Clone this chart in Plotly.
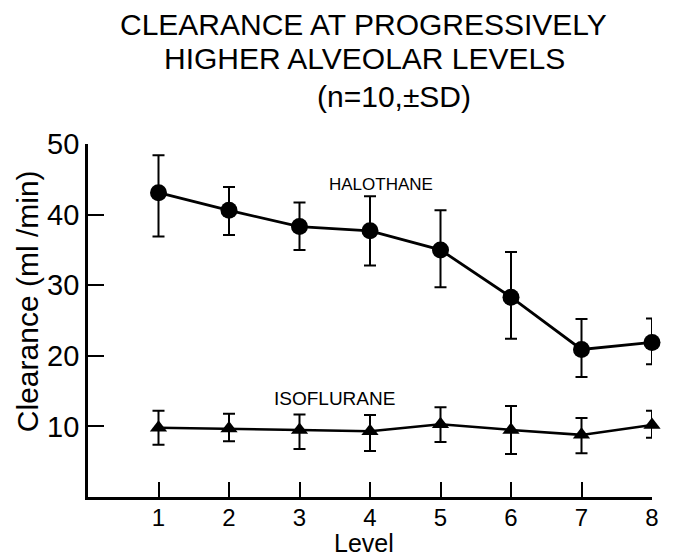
import plotly.graph_objects as go

levels = [1, 2, 3, 4, 5, 6, 7, 8]
halothane = [43.1, 40.6, 38.3, 37.7, 35.0, 28.3, 20.9, 21.9]
halothane_plus = [5.3, 3.3, 3.4, 4.9, 5.6, 6.4, 4.3, 3.4]
halothane_minus = [6.2, 3.5, 3.3, 4.9, 5.3, 5.9, 3.9, 3.1]
isoflurane = [9.8, 9.7, 9.5, 9.3, 10.3, 9.5, 8.8, 10.2]
isoflurane_plus = [2.4, 2.1, 2.2, 2.3, 2.4, 3.4, 2.4, 2.0]
isoflurane_minus = [2.4, 1.8, 2.7, 2.8, 2.5, 3.4, 2.6, 1.8]
y_ticks = [10, 20, 30, 40, 50]
x_ticks = levels
title_lines = ["CLEARANCE AT PROGRESSIVELY", "HIGHER ALVEOLAR LEVELS", "(n=10,±SD)"]

FONT = "Liberation Sans"
BLACK = "black"

fig = go.Figure()
fig.add_trace(go.Scatter(
    x=levels, y=halothane, mode="lines+markers",
    line=dict(color=BLACK, width=2.8),
    marker=dict(symbol="circle", size=17, color=BLACK),
    error_y=dict(type="data", symmetric=False, array=halothane_plus,
                 arrayminus=halothane_minus, color=BLACK, thickness=2, width=6),
    cliponaxis=False, showlegend=False,
))
fig.add_trace(go.Scatter(
    x=levels, y=isoflurane, mode="lines+markers",
    line=dict(color=BLACK, width=2.5),
    marker=dict(symbol="triangle-up", size=15, color=BLACK),
    error_y=dict(type="data", symmetric=False, array=isoflurane_plus,
                 arrayminus=isoflurane_minus, color=BLACK, thickness=2, width=6),
    cliponaxis=False, showlegend=False,
))

# series labels
fig.add_annotation(x=4.15, y=44.2, text="HALOTHANE", showarrow=False,
                   font=dict(family=FONT, size=17, color=BLACK))
fig.add_annotation(x=3.5, y=14.0, text="ISOFLURANE", showarrow=False,
                   font=dict(family=FONT, size=19, color=BLACK))

# title lines (paper coords: plot top at 144 px, plot height 353 px)
title_pos = [(0.488, 1.338), (0.491, 1.242), (0.543, 1.135)]
for line, (px, py) in zip(title_lines, title_pos):
    fig.add_annotation(xref="paper", yref="paper", x=px, y=py, text=line,
                       showarrow=False, xanchor="center", yanchor="middle",
                       font=dict(family=FONT, size=30, color=BLACK))

# axis titles
fig.add_annotation(xref="paper", yref="paper", x=0.489, y=-0.1725, text="Level",
                   showarrow=False, xanchor="center", yanchor="bottom",
                   borderpad=0,
                   font=dict(family=FONT, size=25, color=BLACK))
fig.add_annotation(xref="paper", yref="paper", x=-0.108, y=0.555,
                   text="Clearance (ml /min)", textangle=-90,
                   showarrow=False, xanchor="center", yanchor="middle",
                   font=dict(family=FONT, size=30, color=BLACK))

fig.update_layout(
    width=674, height=558,
    margin=dict(l=88, r=22, t=144, b=61),
    paper_bgcolor="white", plot_bgcolor="white",
    xaxis=dict(
        range=[0, 8], tickvals=x_ticks, ticktext=[str(v) for v in x_ticks],
        ticks="inside", ticklen=15, tickwidth=2, tickcolor=BLACK,
        showline=True, linecolor=BLACK, linewidth=2.8,
        showgrid=False, zeroline=False, ticklabelstandoff=-3,
        tickfont=dict(family=FONT, size=24, color=BLACK),
    ),
    yaxis=dict(
        range=[0, 50], tickvals=y_ticks, ticktext=[str(v) for v in y_ticks],
        ticks="inside", ticklen=16, tickwidth=2, tickcolor=BLACK,
        showline=True, linecolor=BLACK, linewidth=2.8,
        showgrid=False, zeroline=False,
        tickfont=dict(family=FONT, size=29, color=BLACK),
    ),
)

fig.write_html(
    "out.html",
    config={"displayModeBar": False},
    post_script="document.body.style.margin='0';document.body.style.overflow='hidden';",
)
